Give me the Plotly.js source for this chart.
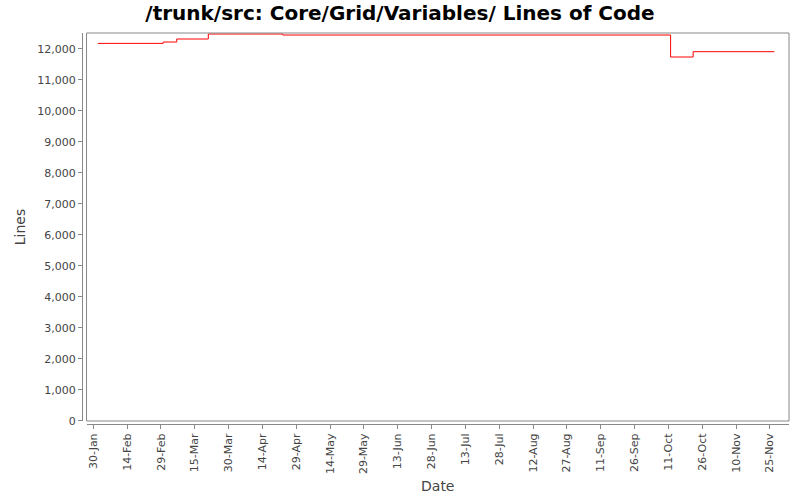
<!DOCTYPE html>
<html>
<head>
<meta charset="utf-8">
<script src="https://cdn.plot.ly/plotly-3.0.1.min.js"></script>
<style>
  body { margin: 0; background: #fff; }
  #chart { width: 800px; height: 500px; }
</style>
</head>
<body>
<div id="chart"></div>
<script>
// step points of the lines-of-code history
var dates = ["2008-02-01", "2008-03-01", "2008-03-07", "2008-03-21",
  "2008-04-23", "2008-10-12", "2008-10-22", "2008-11-27"];
var lines = [12180, 12224, 12321, 12482, 12450, 11741, 11912, 11912];

var chartTitle = "/trunk/src: Core/Grid/Variables/ Lines of Code";
var xTitle = "Date";
var yTitle = "Lines";

function drawChart() {
  var font = "DejaVu Sans, Verdana, sans-serif",
    plotdata = [
      {
        x: dates,
        y: lines,
        type: "scatter",
        mode: "lines",
        line: { color: "#ff0000", width: 1, shape: "hv" },
        hoverinfo: "x+y",
      },
    ],
    layout = {
      width: 800,
      height: 500,
      margin: { l: 82, r: 11, t: 33, b: 76 },
      paper_bgcolor: "#ffffff",
      plot_bgcolor: "#ffffff",
      showlegend: false,
      font: { family: font, color: "#444444", size: 11 },
      title: {
        text: chartTitle,
        font: { family: font, size: 20, color: "#000000", weight: "bold" },
        x: 0.5,
        xref: "container",
        y: 0.974,
        yref: "container",
        yanchor: "middle",
      },
      xaxis: {
        type: "date",
        domain: [0.0064, 1],
        range: ["2008-01-27", "2008-12-03 12:00"],
        anchor: "free",
        position: 0,
        tick0: "2008-01-30",
        dtick: 15 * 86400000,
        tickformat: "%-d-%b",
        tickangle: -90,
        ticks: "outside",
        ticklen: 4,
        tickcolor: "#888888",
        showline: true,
        linecolor: "#888888",
        linewidth: 1,
        showgrid: false,
        zeroline: false,
        tickfont: { family: font, size: 11, color: "#444444" },
        title: {
          text: xTitle,
          font: { family: font, size: 14, color: "#444444" },
          standoff: 8,
        },
      },
      yaxis: {
        domain: [0.0077, 1],
        range: [0, 12515],
        anchor: "free",
        position: 0,
        dtick: 1000,
        tickformat: ",d",
        ticks: "outside",
        ticklen: 4,
        tickcolor: "#888888",
        showline: true,
        linecolor: "#888888",
        linewidth: 1,
        showgrid: false,
        zeroline: false,
        tickfont: { family: font, size: 11, color: "#444444" },
        title: {
          text: yTitle,
          font: { family: font, size: 14, color: "#444444" },
          standoff: 7,
        },
      },
      shapes: [
        {
          type: "rect",
          xref: "paper",
          yref: "paper",
          x0: 0.0064,
          x1: 1,
          y0: 0.0077,
          y1: 1,
          line: { color: "#888888", width: 1 },
          fillcolor: "rgba(0,0,0,0)",
          layer: "above",
        },
      ],
    };

  Plotly.newPlot("chart", plotdata, layout, { displayModeBar: false, staticPlot: true });
}

drawChart();
</script>
</body>
</html>
